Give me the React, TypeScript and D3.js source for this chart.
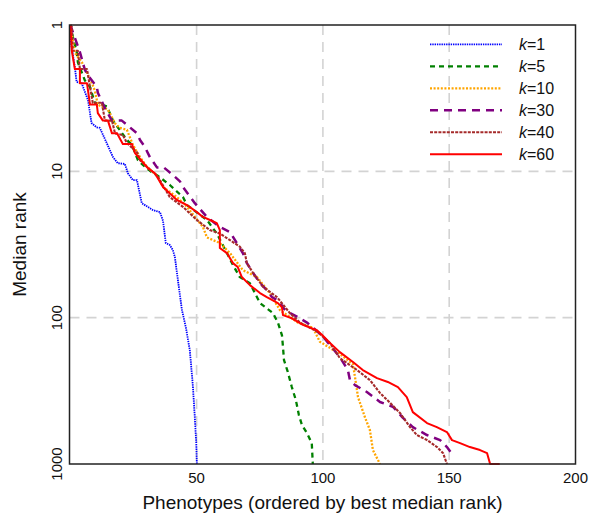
import React from 'react';
import * as d3 from 'd3';

type Pt = [number, number];

const K_LABELS = ['1', '5', '10', '30', '40', '60'];
const X_TICKS = [50, 100, 150, 200];
const Y_TICKS = [1, 10, 100, 1000];
const X_GRID = [50, 100, 150];
const Y_GRID = [10, 100];

const K1: Pt[] = [
  [0, 1], [0.1, 1.27], [1.8, 1.94], [2.5, 2.45], [4.5, 2.5], [7, 3.26], [8.4, 4.67], [10.4, 5], [11.7, 5.05],
  [14.4, 6.4], [16.9, 8], [18.8, 8.8], [21.6, 8.9], [22.8, 10.3], [24.8, 11.5], [26.4, 11.5], [28.3, 16.5],
  [32.7, 18.4], [35.5, 19], [36.7, 21.8], [37.8, 30.9], [39.4, 31.9], [40.6, 34.5], [41.4, 38.5], [42.6, 55.4],
  [44.2, 88.8], [45.8, 118], [47.3, 166], [48.5, 289], [49.3, 482], [49.9, 742], [50.1, 1000],
];

const K5: Pt[] = [
  [0, 1], [1, 1.2], [2.6, 1.55], [3, 1.8], [5.8, 2.4], [7.8, 2.65], [9.7, 3.4], [14.5, 3.6], [16.9, 4.5],
  [18.8, 5], [22.4, 6.1], [24.4, 6.6], [26.8, 8.4], [29.5, 9.3], [32.7, 10.3], [34.3, 10.6], [39.4, 12.4],
  [44.6, 15], [46.2, 17], [54.1, 21.5], [58, 26.6], [62, 36.2], [64.4, 43.7], [67.1, 52.8], [71.1, 58.2],
  [75.1, 79.5], [80.2, 93], [82.2, 108], [83.8, 132], [84.2, 159], [84.6, 195], [86.1, 235], [87.7, 298],
  [89.3, 366], [90.5, 463], [91.7, 542], [93.7, 615], [95.6, 720], [96, 1000],
];

const K10: Pt[] = [
  [0, 1], [1.8, 1.55], [4.6, 1.8], [8.6, 2.5], [9.7, 2.8], [10.9, 3.5], [14.9, 3.8], [17.7, 4.7], [19.6, 5.05],
  [22.4, 5.2], [24.8, 6.6], [27.6, 8], [30.3, 9.3], [32.7, 10.1], [34.7, 10.9], [36.7, 12.8], [42.2, 15],
  [46.2, 17.5], [52.5, 24], [54.1, 28.3], [59.2, 30.9], [63.2, 36.2], [68.3, 47.3], [73.9, 52.8], [79, 68],
  [83, 88.8], [90.1, 108], [96, 117], [98.8, 146], [106.7, 177], [111.9, 208], [112.7, 254], [113.9, 349],
  [116.7, 482], [118.6, 586], [119.8, 803], [122.6, 1000],
];

const K30: Pt[] = [
  [0, 1], [3.8, 1.53], [5.8, 2.03], [7.8, 2.3], [10.5, 2.65], [10.9, 2.9], [13.7, 3.7], [16.5, 4.5], [20.4, 4.5],
  [26.4, 5.5], [27.6, 6.1], [29.5, 6.8], [31.5, 8], [34.3, 9.4], [37, 9.4], [39.8, 10.3], [43.4, 11.7],
  [44.6, 12.8], [49.3, 16.5], [54.1, 20.5], [59.2, 24], [63.2, 26], [65.9, 30.9], [68.3, 36.2], [69.9, 42.4],
  [72.3, 49.3], [75.1, 58.2], [77.8, 64.8], [79.8, 72.2], [83, 78], [84.2, 85.8], [86.9, 93], [89.7, 98.3],
  [93.7, 108], [100, 134], [102.8, 154], [106.7, 186], [109.9, 228], [110.7, 267], [112.7, 289], [117.4, 322],
  [122.6, 377], [127.7, 406], [131.6, 482], [135.6, 560], [141.2, 634], [146.4, 687], [149.1, 766], [151.5, 869],
];

const K40: Pt[] = [
  [0, 1], [0.6, 1.03], [1, 1.5], [3, 1.5], [3.8, 2], [6.6, 2], [7.8, 2.65], [8.9, 3.4], [12.5, 3.4], [13.7, 4.5],
  [16.5, 4.5], [17.7, 5.5], [20.8, 5.65], [22.4, 6.4], [26.4, 7.4], [27.6, 8.4], [30.3, 9.3], [32.7, 10.1],
  [34.7, 10.9], [39.4, 15], [44.6, 17.5], [50.1, 21.5], [55.2, 25.2], [59.2, 26.6], [63.2, 29.5], [67.1, 32.7],
  [69.1, 36.2], [69.9, 42.4], [72.3, 49.3], [76.3, 61.5], [81.8, 72.3], [86.9, 93], [90.9, 108], [97.6, 124],
  [102.8, 149], [106.7, 189], [113.5, 228], [118.6, 267], [122.6, 327], [126.6, 382], [130.5, 448], [134.5, 560],
  [137.2, 634], [141.2, 686], [145.2, 766], [147.6, 843], [149.1, 1000],
];

const K60: Pt[] = [
  [0, 1], [0.6, 1.5], [1.8, 2], [3.8, 2], [3.8, 2.5], [6.6, 2.5], [7.8, 3.5], [10.5, 3.5], [10.9, 4], [12.9, 4.5],
  [14.9, 4.5], [16.5, 5.5], [18.5, 5.5], [20.8, 6.5], [24.4, 6.5], [25.6, 7.5], [28.3, 8.5], [30.7, 9.5],
  [33.5, 10.3], [36.7, 12.8], [42.2, 15.7], [46.2, 17], [50.1, 19], [52.5, 20.5], [55.3, 21.5], [58, 22.6],
  [59.2, 25.2], [59.2, 33.4], [62, 36.2], [64.4, 42.4], [66.3, 45.1], [67.9, 52.8], [71.1, 59.9], [75.1, 67.9],
  [77.8, 72.3], [82.2, 79.5], [83.8, 85], [84.2, 96], [87.7, 101], [92.1, 112], [97.6, 122], [99.6, 131],
  [102.8, 149], [106.7, 172], [111.9, 201], [115.8, 228], [121.4, 259], [125.7, 275], [129.7, 298], [133.2, 349],
  [135.6, 442], [141.2, 525], [145.1, 560], [149.1, 605], [151.1, 687], [154.3, 720], [158.2, 766], [162.2, 803],
  [165, 843], [166.2, 1000], [170, 1000],
];

const SERIES: Pt[][] = [K1, K5, K10, K30, K40, K60];

const STYLES = [
  { color: '#0000ff', dash: '1.4,0.9', width: 1.8 },
  { color: '#008000', dash: '5,4', width: 2.3 },
  { color: '#ffa500', dash: '2,1.6', width: 2.3 },
  { color: '#800080', dash: '8,6', width: 2.5 },
  { color: '#a52a2a', dash: '3,1.2', width: 2.1 },
  { color: '#ff0000', dash: 'none', width: 2 },
];

const LEFT = 69.5;
const RIGHT = 575.5;
const TOP = 25;
const BOTTOM = 464;
const FONT = 'Liberation Sans, Arial, Helvetica, sans-serif';

export default function App() {
  const x = d3.scaleLinear().domain([0, 200]).range([70.3, RIGHT]);
  const y = d3.scaleLog().domain([1, 1000]).range([TOP, BOTTOM]);
  const line = d3
    .line<Pt>()
    .x((d) => x(d[0]))
    .y((d) => y(d[1]));

  const legendY = (i: number) => 44.3 + i * 22;

  return (
    <svg
      width={600}
      height={522}
      style={{ position: 'absolute', left: 0, top: 0, background: '#fff' }}
      fontFamily={FONT}
    >
      <rect x={0} y={0} width={600} height={522} fill="#fff" />
      <defs>
        <clipPath id="plotclip">
          <rect x={LEFT} y={TOP - 1} width={RIGHT - LEFT} height={BOTTOM - TOP + 2} />
        </clipPath>
      </defs>
      {X_GRID.map((v) => (
        <line
          key={'gx' + v}
          x1={x(v)}
          x2={x(v)}
          y1={TOP}
          y2={BOTTOM}
          stroke="#d3d3d3"
          strokeWidth={1.6}
          strokeDasharray="10,7"
        />
      ))}
      {Y_GRID.map((v) => (
        <line
          key={'gy' + v}
          x1={LEFT}
          x2={RIGHT}
          y1={y(v)}
          y2={y(v)}
          stroke="#d3d3d3"
          strokeWidth={1.6}
          strokeDasharray="10,7"
        />
      ))}
      <g clipPath="url(#plotclip)">
        {SERIES.map((s, i) => (
          <path
            key={'s' + i}
            d={line(s) || ''}
            fill="none"
            stroke={STYLES[i].color}
            strokeWidth={STYLES[i].width}
            strokeDasharray={STYLES[i].dash}
            strokeLinejoin="round"
          />
        ))}
      </g>
      <rect
        x={LEFT}
        y={TOP}
        width={RIGHT - LEFT}
        height={BOTTOM - TOP}
        fill="none"
        stroke="#222"
        strokeWidth={1.5}
      />
      {X_TICKS.map((v) => (
        <text key={'xt' + v} x={x(v)} y={483} textAnchor="middle" fontSize={15} fill="#111">
          {v}
        </text>
      ))}
      {Y_TICKS.map((v) => (
        <text
          key={'yt' + v}
          transform={`translate(61.5,${y(v)}) rotate(-90)`}
          textAnchor="middle"
          fontSize={15}
          fill="#111"
        >
          {v}
        </text>
      ))}
      <text x={(LEFT + RIGHT) / 2} y={508.5} textAnchor="middle" fontSize={19} fill="#111">
        Phenotypes (ordered by best median rank)
      </text>
      <text
        transform={`translate(26,${(TOP + BOTTOM) / 2}) rotate(-90)`}
        textAnchor="middle"
        fontSize={19}
        fill="#111"
      >
        Median rank
      </text>
      {K_LABELS.map((k, i) => (
        <g key={'lg' + k}>
          <line
            x1={430}
            x2={502}
            y1={legendY(i)}
            y2={legendY(i)}
            stroke={STYLES[i].color}
            strokeWidth={STYLES[i].width}
            strokeDasharray={STYLES[i].dash}
          />
          <text x={519} y={legendY(i) + 5.5} fontSize={16} fill="#111">
            <tspan fontStyle="italic">k</tspan>={k}
          </text>
        </g>
      ))}
    </svg>
  );
}
